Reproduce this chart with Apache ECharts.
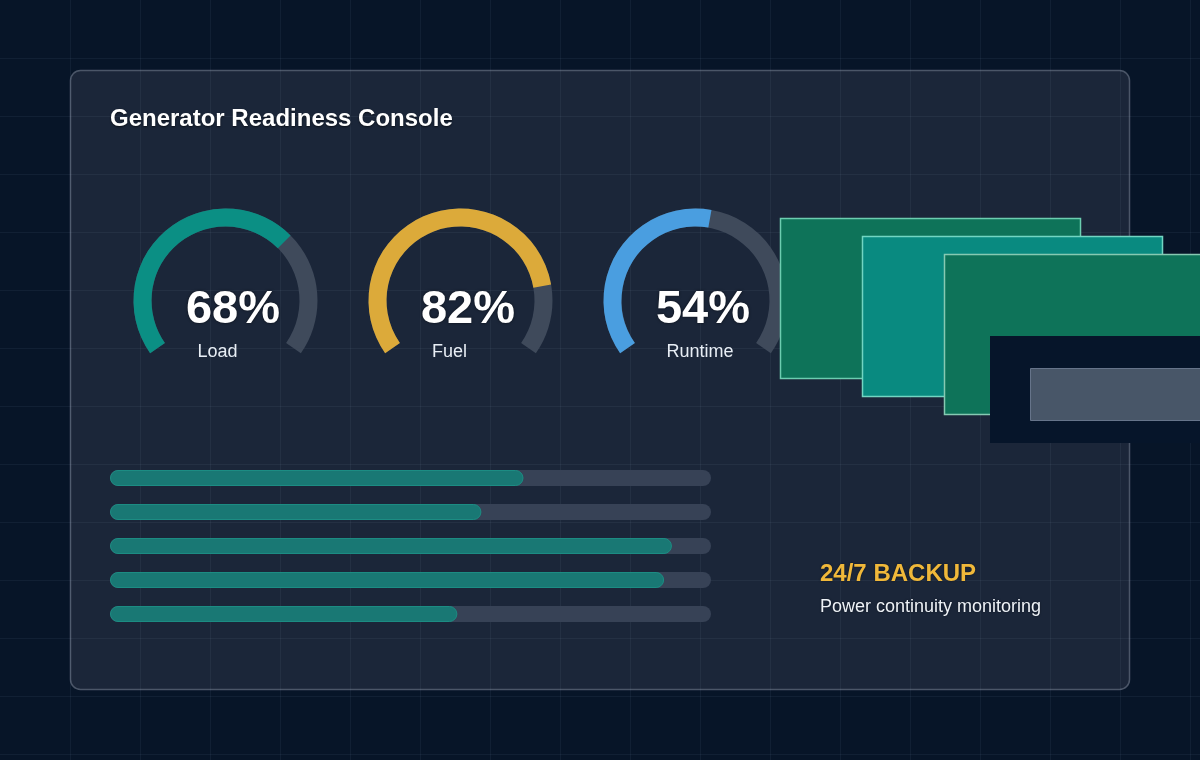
<!DOCTYPE html>
<html>
<head>
<meta charset="utf-8">
<script src="https://cdn.jsdelivr.net/npm/echarts@6/dist/echarts.min.js"></script>
<style>
html,body{margin:0;padding:0;background:#071528;}
#chart{width:1200px;height:760px;}
</style>
</head>
<body>
<div id="chart"></div>
<script>
// ---- data ----
const gaugeNames = ['Load', 'Fuel', 'Runtime'];
const gaugeValues = [68, 82, 54];
const barCategories = ['Unit 1', 'Unit 2', 'Unit 3', 'Unit 4', 'Unit 5'];
const barValues = [68.8, 61.8, 93.5, 92.2, 57.8];
const barMax = [100, 100, 100, 100, 100];
const titleText = 'Generator Readiness Console';
const badgeText = '24/7 BACKUP';
const badgeSub = 'Power continuity monitoring';

// ---- styles ----
const gaugeColors = ['#0b8f84', '#dcaa3a', '#4a9ee0'];
const gaugeCenters = [[225.5, 300.5], [460.5, 300.5], [695.5, 300.5]];
const titleOffsets = [[-8, 51.5], [-11, 51.5], [4.5, 51.5]];
const FONT = '"Liberation Sans", Arial, sans-serif';

const chart = echarts.init(document.getElementById('chart'), null, {renderer: 'canvas'});

const graphics = [];
// card
graphics.push({
  type: 'rect', z: 0,
  shape: {x: 70.5, y: 70.5, width: 1059, height: 619, r: 10},
  style: {fill: '#1b2639', stroke: '#4b5668', lineWidth: 1.5}
});
// background grid lines
for (let x = 70; x < 1200; x += 70) {
  graphics.push({type: 'line', z: 1, silent: true,
    shape: {x1: x + 0.5, y1: 0, x2: x + 0.5, y2: 760},
    style: {stroke: 'rgba(160,185,215,0.07)', lineWidth: 1}});
}
for (let y = 58; y < 760; y += 58) {
  graphics.push({type: 'line', z: 1, silent: true,
    shape: {x1: 0, y1: y + 0.5, x2: 1200, y2: y + 0.5},
    style: {stroke: 'rgba(160,185,215,0.07)', lineWidth: 1}});
}
// title
graphics.push({type: 'text', z: 5, x: 110, y: 119.5,
  style: {text: titleText, fill: '#ffffff', font: 'bold 24px ' + FONT,
    textVerticalAlign: 'middle',
    textShadowColor: 'rgba(0,0,0,0.6)', textShadowBlur: 2, textShadowOffsetY: 1}});
// badge
graphics.push({type: 'text', z: 5, x: 820, y: 574,
  style: {text: badgeText, fill: '#f0b83a', font: 'bold 24px ' + FONT,
    textVerticalAlign: 'middle', textShadowColor: 'rgba(0,0,0,0.5)', textShadowBlur: 2}});
graphics.push({type: 'text', z: 5, x: 820, y: 607,
  style: {text: badgeSub, fill: '#eef2f7', font: '18px ' + FONT,
    textVerticalAlign: 'middle', textShadowColor: 'rgba(0,0,0,0.5)', textShadowBlur: 2}});
// overlapping decorative panels
graphics.push({type: 'rect', z: 100, shape: {x: 780.5, y: 218.5, width: 300, height: 160},
  style: {fill: '#0e7359', stroke: '#6ccdb0', lineWidth: 1.5}});
graphics.push({type: 'rect', z: 101, shape: {x: 862.5, y: 236.5, width: 300, height: 160},
  style: {fill: '#098a80', stroke: '#72d5c2', lineWidth: 1.5}});
graphics.push({type: 'rect', z: 102, shape: {x: 944.5, y: 254.5, width: 300, height: 160},
  style: {fill: '#0e7359', stroke: '#86c9b2', lineWidth: 1.5}});
graphics.push({type: 'rect', z: 103, shape: {x: 990, y: 336, width: 230, height: 107},
  style: {fill: '#06152a'}});
graphics.push({type: 'rect', z: 104, shape: {x: 1030.5, y: 368.5, width: 200, height: 52},
  style: {fill: '#485668', stroke: '#66748a', lineWidth: 1}});

const series = [];
gaugeValues.forEach((v, i) => {
  series.push({
    type: 'gauge', z: 3,
    center: gaugeCenters[i], radius: 92,
    startAngle: 215, endAngle: -35, min: 0, max: 100,
    progress: {show: true, width: 18, itemStyle: {color: gaugeColors[i]}},
    axisLine: {lineStyle: {width: 18, color: [[1, '#3f4a5b']]}},
    pointer: {show: false}, anchor: {show: false},
    axisTick: {show: false}, splitLine: {show: false}, axisLabel: {show: false},
    title: {offsetCenter: titleOffsets[i], color: '#e8eef5', fontSize: 18, fontFamily: FONT},
    detail: {offsetCenter: [7.5, 10], color: '#ffffff', fontSize: 47, fontWeight: 'bold',
      fontFamily: FONT, formatter: '{value}%',
      textShadowColor: 'rgba(0,0,0,0.6)', textShadowBlur: 3},
    data: [{value: v, name: gaugeNames[i]}]
  });
});
series.push({
  type: 'bar', z: 3, silent: true,
  data: barMax, barWidth: 16,
  itemStyle: {color: '#374256', borderRadius: 8}
});
series.push({
  type: 'bar', z: 4, barGap: '-100%',
  data: barValues, barWidth: 16,
  itemStyle: {color: '#197874', borderColor: '#1c8c83', borderWidth: 1, borderRadius: 8}
});

chart.setOption({
  backgroundColor: '#071528',
  animation: false,
  graphic: {elements: graphics},
  grid: {left: 110, top: 461, width: 601, height: 170, containLabel: false},
  xAxis: {type: 'value', min: 0, max: 100, show: false},
  yAxis: {type: 'category', data: barCategories, inverse: true, show: false},
  series: series
});
</script>
</body>
</html>
